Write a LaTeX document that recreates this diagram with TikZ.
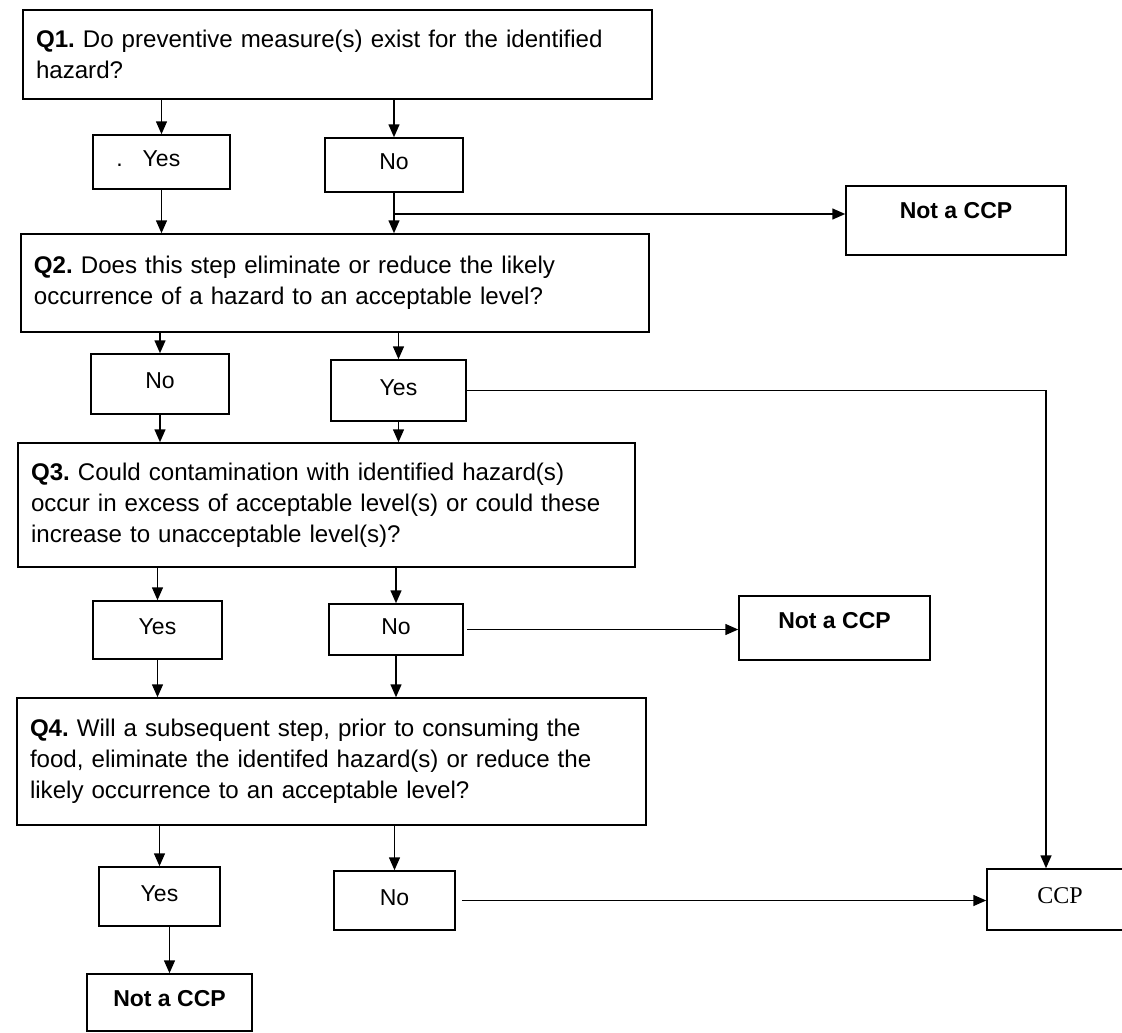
\documentclass[tikz,border=0pt]{standalone}
\usepackage{fontspec}
\setmainfont{Liberation Sans}
\newfontfamily\ccpserif{Liberation Serif}
\usetikzlibrary{arrows.meta}
\frenchspacing
\begin{document}
\begin{tikzpicture}[x=1pt,y=-1pt, line width=1.5pt,
  arr/.style={-{Triangle[length=13pt,width=11pt]}},
  qbox/.style={draw, rectangle, inner xsep=13pt, inner ysep=0pt, align=left,
    font=\fontsize{24.1}{31}\selectfont},
  sbox/.style={draw, rectangle, inner sep=0pt, align=center,
    font=\fontsize{23}{27}\selectfont, text height=17pt, text depth=8pt},
  ncbox/.style={sbox, font=\fontsize{23}{27}\selectfont\bfseries}
]
\useasboundingbox (0,0) rectangle (1122,1033);
\fill[white] (0,0) rectangle (1122,1033);

% question boxes
\node[qbox, minimum height=89pt, text width=603pt] (Q1) at (337.5,54.5)
  {\textbf{Q1.} Do preventive measure(s) exist for the identified\\hazard?};
\node[qbox, minimum height=98pt, text width=602pt] (Q2) at (335,283)
  {\textbf{Q2.} Does this step eliminate or reduce the likely\\occurrence of a hazard to an acceptable level?};
\node[qbox, minimum height=124pt, text width=591pt] (Q3) at (326.5,505)
  {\textbf{Q3.} Could contamination with identified hazard(s)\\occur in excess of acceptable level(s) or could these\\increase to unacceptable level(s)?};
\node[qbox, minimum height=127pt, text width=603pt] (Q4) at (331.5,761.5)
  {\textbf{Q4.} Will a subsequent step, prior to consuming the\\food, eliminate the identifed hazard(s) or reduce the\\likely occurrence to an acceptable level?};

% answer boxes
\node[sbox, minimum width=137pt, minimum height=54pt] (Y1) at (161.5,162) {\llap{.\hspace{20pt}}Yes};
\node[sbox, minimum width=138pt, minimum height=54pt] (N1) at (394,165) {No};
\node[ncbox, minimum width=220pt, minimum height=69pt, text depth=21pt] (NC1) at (956,220.5) {Not a CCP};

\node[sbox, minimum width=138pt, minimum height=60pt] (N2) at (160,384) {No};
\node[sbox, minimum width=135pt, minimum height=61pt] (Y2) at (398.5,390.5) {Yes};

\node[sbox, minimum width=129pt, minimum height=58pt] (Y3) at (157.5,630) {Yes};
\node[sbox, minimum width=134pt, minimum height=51pt] (N3) at (396,629.5) {No};
\node[ncbox, minimum width=191pt, minimum height=64pt, text depth=16pt] (NC2) at (834.5,628) {Not a CCP};

\node[sbox, minimum width=121pt, minimum height=59pt] (Y4) at (159.5,896.5) {Yes};
\node[sbox, minimum width=121pt, minimum height=59pt] (N4) at (394.5,900.5) {No};
\node[ncbox, minimum width=165pt, minimum height=57pt, text depth=9pt] (NC3) at (169.5,1002.5) {Not a CCP};
\node[sbox, minimum width=137pt, minimum height=61pt, text depth=10pt,
  font=\fontsize{24}{28}\ccpserif] (CCP) at (1055.5,899.5) {\hspace{9pt}CCP};

\coordinate (nc1in) at ([yshift=6.5pt]NC1.west);
\coordinate (ccpin) at ([xshift=-9.5pt]CCP.north);

% connectors
\draw[arr] (Q1.south -| Y1) -- (Y1.north);
\draw[arr] (Q1.south -| N1) -- (N1.north);
\draw[arr] (Y1.south) -- (Y1.south |- Q2.north);
\draw[arr] (N1.south) -- (N1.south |- Q2.north);
\draw[arr] (N1 |- nc1in) -- (nc1in);

\draw[arr] (Q2.south -| N2) -- (N2.north);
\draw[arr] (Q2.south -| Y2) -- (Y2.north);
\draw[arr] (N2.south) -- (N2.south |- Q3.north);
\draw[arr] (Y2.south) -- (Y2.south |- Q3.north);
\draw[arr] (Y2.east) -| (ccpin);

\draw[arr] (Q3.south -| Y3) -- (Y3.north);
\draw[arr] (Q3.south -| N3) -- (N3.north);
\draw[arr] (Y3.south) -- (Y3.south |- Q4.north);
\draw[arr] (N3.south) -- (N3.south |- Q4.north);
\draw[arr, shorten <=3pt] (N3.east) -- (N3.east -| NC2.west);

\draw[arr] (Q4.south -| Y4) -- (Y4.north);
\draw[arr] (Q4.south -| N4) -- (N4.north);
\draw[arr] (NC3.north |- Y4.south) -- (NC3.north);
\draw[arr, shorten <=6pt] (N4.east) -- (N4.east -| CCP.west);
\end{tikzpicture}
\end{document}
